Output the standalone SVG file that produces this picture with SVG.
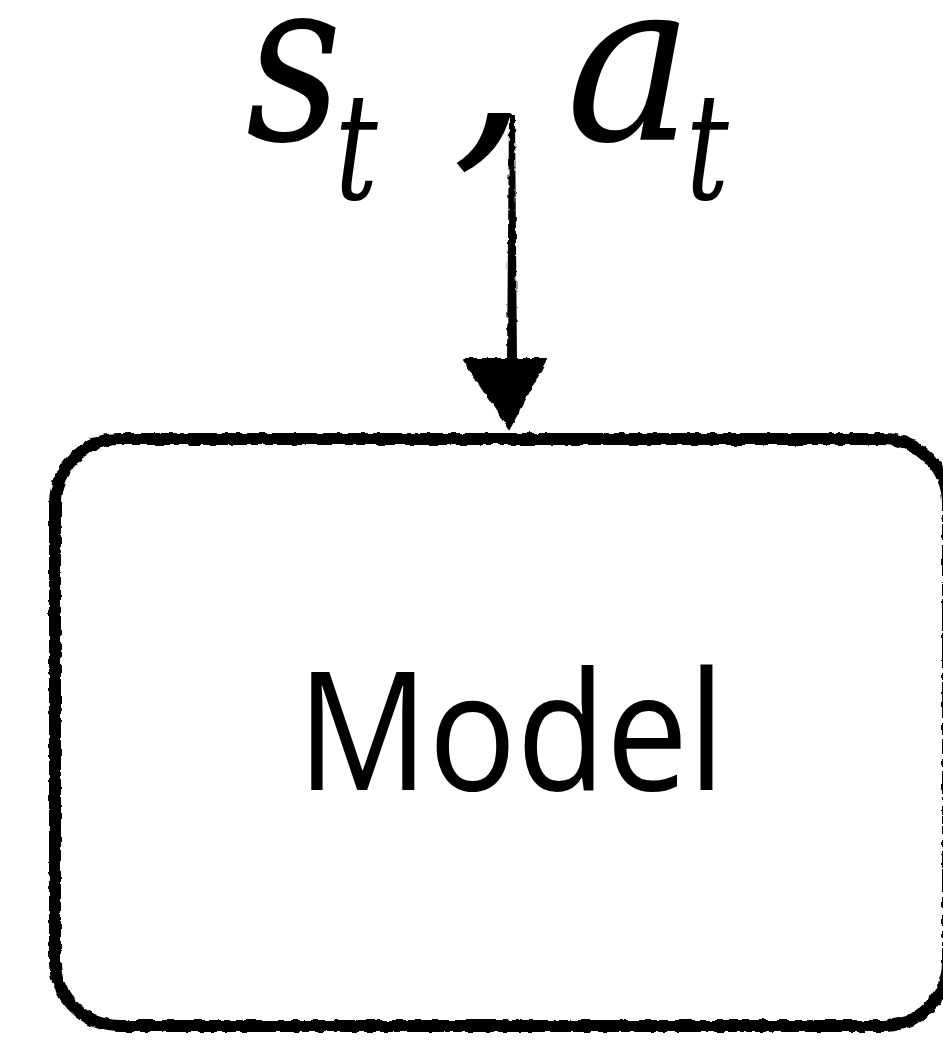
<svg xmlns="http://www.w3.org/2000/svg" width="943" height="1048" viewBox="0 0 943 1048">
<style>
.box{fill:none;stroke:#000;stroke-width:12}
.conn{fill:#000;stroke:#000;stroke-width:2;stroke-linejoin:round}
</style>
<defs>
<filter id="rough" x="-5%" y="-5%" width="110%" height="110%">
<feTurbulence type="fractalNoise" baseFrequency="0.12" numOctaves="2" seed="4" result="n"/>
<feDisplacementMap in="SourceGraphic" in2="n" scale="5" xChannelSelector="R" yChannelSelector="G"/>
</filter>
</defs>
<g id="input-label" fill="#000">
<text font-family="DejaVu Serif" font-style="italic" font-size="228" transform="translate(246,140) scale(0.82,1)">s</text>
<text font-family="DejaVu Serif" font-style="italic" font-size="148" transform="translate(335,199) scale(0.72,1)">t</text>
<text font-family="DejaVu Serif" font-style="italic" font-size="240" transform="translate(452,140)">,</text>
<text font-family="DejaVu Serif" font-style="italic" font-size="225" transform="translate(566,140) scale(0.95,1)">a</text>
<text font-family="DejaVu Serif" font-style="italic" font-size="148" transform="translate(686,199) scale(0.72,1)">t</text>
</g>
<g id="connectors" filter="url(#rough)">
<polygon class="conn" points="510,116 514,116 516,362 508,362"/>
<polygon class="conn" points="463,359 546,359 509,429"/>
</g>
<g id="model" filter="url(#rough)">
<rect class="box" x="55" y="439" width="893" height="587" rx="65" ry="65"/>
</g>
<g id="model-label">
<text x="297" y="790" font-family="Open Sans, Noto Sans, sans-serif" font-size="165" fill="#000" textLength="428" lengthAdjust="spacingAndGlyphs">Model</text>
</g>
</svg>
